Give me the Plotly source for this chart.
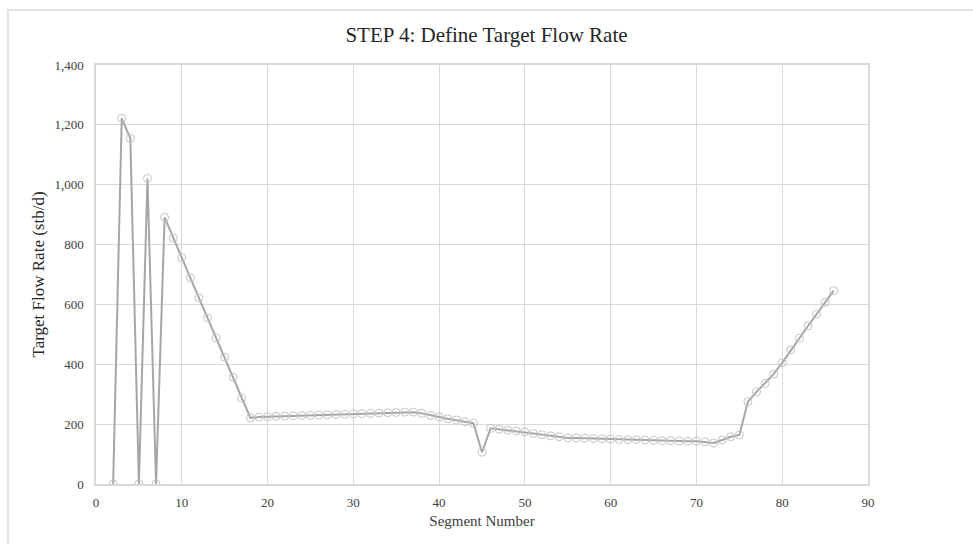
import plotly.graph_objects as go

segments = list(range(2, 87))
flow_rate = [
    0, 1222, 1155, 0, 1021, 0, 891, 822, 756, 689,      # 2-11
    622, 555, 488, 424, 357, 287, 221, 224, 225, 226,    # 12-21
    227, 228, 229, 229, 230, 231, 232, 233, 234, 235,    # 22-31
    236, 237, 238, 239, 240, 240, 236, 229, 224, 218,    # 32-41
    214, 208, 203, 106, 186, 183, 180, 177, 174, 169,    # 42-51
    165, 161, 158, 154, 154, 153, 152, 151, 150, 149,    # 52-61
    148, 148, 147, 146, 145, 145, 144, 143, 143, 141,    # 62-71
    137, 147, 158, 164, 275, 308, 336, 367, 405, 448,    # 72-81
    487, 528, 568, 607, 646,                             # 82-86
]

x_ticks = list(range(0, 91, 10))
y_ticks = list(range(0, 1401, 200))
y_tick_labels = [f"{v:,}" for v in y_ticks]

serif = "Liberation Serif, Times New Roman, serif"

fig = go.Figure()
fig.add_trace(go.Scatter(
    x=segments, y=flow_rate, mode="lines+markers",
    line=dict(color="#a6a6a6", width=2),
    marker=dict(symbol="circle-open", size=8, color="#c4c4c4", line=dict(width=1)),
    showlegend=False,
))

fig.update_layout(
    width=973, height=544,
    margin=dict(l=96, r=105, t=65, b=60),
    paper_bgcolor="white", plot_bgcolor="white",
    title=dict(text="STEP 4: Define Target Flow Rate", x=0.5, xanchor="center",
               y=1 - 35 / 544, yanchor="middle",
               font=dict(family=serif, size=21, color="#262626")),
    font=dict(family=serif, size=13, color="#404040"),
    xaxis=dict(range=[0, 90], tickvals=x_ticks, showgrid=True, gridcolor="#d9d9d9",
               gridwidth=1, showline=True, linecolor="#d9d9d9", linewidth=1.5, mirror=True,
               zeroline=False, ticks="outside", ticklen=6, tickcolor="white",
               title=dict(text="Segment Number", font=dict(family=serif, size=15, color="#404040"),
                          standoff=6),
               tickfont=dict(family=serif, size=13, color="#404040")),
    yaxis=dict(range=[0, 1400], tickvals=y_ticks, ticktext=y_tick_labels, showgrid=True,
               gridcolor="#d9d9d9", gridwidth=1, showline=True, linecolor="#d9d9d9",
               linewidth=1.5, mirror=True, zeroline=False, ticks="outside", ticklen=8,
               tickcolor="white",
               title=dict(text="Target Flow Rate (stb/d)",
                          font=dict(family=serif, size=17, color="#262626"), standoff=5),
               tickfont=dict(family=serif, size=13, color="#404040")),
    shapes=[dict(type="rect", xref="paper", yref="paper",
                 x0=(8 - 96) / 772, x1=(980 - 96) / 772,
                 y0=(484 - 550) / 419, y1=(484 - 10) / 419,
                 line=dict(color="#d9d9d9", width=1.5), fillcolor="rgba(0,0,0,0)",
                 layer="below")],
)

fig.write_html("out.html")
